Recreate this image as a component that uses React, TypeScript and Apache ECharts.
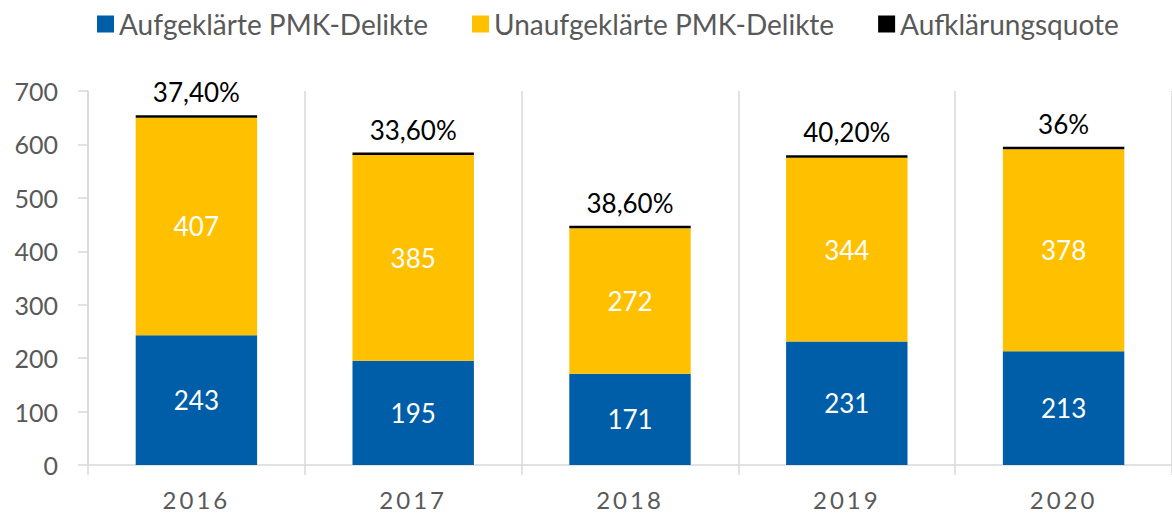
import React, { useEffect, useRef } from "react";
import * as echarts from "echarts";

const categories = ["2016", "2017", "2018", "2019", "2020"];
const solved = [243, 195, 171, 231, 213];
const unsolved = [407, 385, 272, 344, 378];
const quote = [0.374, 0.336, 0.386, 0.402, 0.36];
const quoteLabels = ["37,40%", "33,60%", "38,60%", "40,20%", "36%"];
const seriesNames = ["Aufgeklärte PMK-Delikte", "Unaufgeklärte PMK-Delikte", "Aufklärungsquote"];
const yTicks = { min: 0, max: 700, interval: 100 };

const FONT = "Lato";
const GRAY = "#595959";
const LINE = "#d9d9d9";

export default function App() {
  const ref = useRef<HTMLDivElement>(null);
  useEffect(() => {
    if (!ref.current) return;
    const chart = echarts.init(ref.current, undefined, { renderer: "svg" });
    const applySpacing = () => {
      if (!ref.current) return;
      ref.current.querySelectorAll("text").forEach((t) => {
        if (categories.includes((t.textContent || "").trim())) {
          (t as SVGTextElement).style.letterSpacing = "3px";
        }
      });
    };
    chart.on("finished", applySpacing);
    chart.setOption({
      animation: false,
      textStyle: { fontFamily: FONT },
      legend: {
        left: 97,
        top: 10,
        padding: 0,
        itemWidth: 17,
        itemHeight: 17,
        itemGap: 44,
        icon: "rect",
        textStyle: { fontSize: 28, color: GRAY, fontFamily: FONT },
        data: seriesNames,
      },
      grid: { left: 88, right: 0, top: 91, bottom: 49, containLabel: false },
      xAxis: {
        type: "category",
        data: categories,
        boundaryGap: true,
        axisLine: { show: true, lineStyle: { color: LINE, width: 1.5 } },
        axisTick: { show: true, length: 10, alignWithLabel: false, lineStyle: { color: LINE, width: 1.5 } },
        splitLine: { show: true, interval: 0, lineStyle: { color: LINE, width: 1.5 } },
        axisLabel: { fontSize: 24, color: GRAY, margin: 22, fontFamily: FONT },
      },
      yAxis: {
        type: "value",
        min: yTicks.min,
        max: yTicks.max,
        interval: yTicks.interval,
        axisLine: { show: true, lineStyle: { color: LINE, width: 1.5 } },
        axisTick: { show: true, length: 10, lineStyle: { color: LINE, width: 1.5 } },
        splitLine: { show: false },
        axisLabel: { fontSize: 25, color: GRAY, margin: 30, fontFamily: FONT },
      },
      series: [
        {
          name: seriesNames[0],
          type: "bar",
          stack: "total",
          data: solved,
          barWidth: "56%",
          itemStyle: { color: "#005EA8" },
          label: { show: true, position: "inside", color: "#fff", fontSize: 26, fontFamily: FONT },
        },
        {
          name: seriesNames[1],
          type: "bar",
          stack: "total",
          data: unsolved,
          barWidth: "56%",
          itemStyle: { color: "#FFC000" },
          label: { show: true, position: "inside", color: "#fff", fontSize: 26, fontFamily: FONT },
        },
        {
          name: seriesNames[2],
          type: "bar",
          stack: "total",
          data: quote,
          barWidth: "56%",
          barMinHeight: 2.5,
          itemStyle: { color: "#000" },
          label: {
            show: true,
            position: "top",
            distance: 10,
            color: "#000",
            fontSize: 26,
            fontFamily: FONT,
            formatter: (p: any) => quoteLabels[p.dataIndex],
          },
        },
      ],
    });
    return () => chart.dispose();
  }, []);
  return (
    <div
      ref={ref}
      style={{ position: "fixed", left: 0, top: 0, width: 1172, height: 514, background: "#fff" }}
    />
  );
}
